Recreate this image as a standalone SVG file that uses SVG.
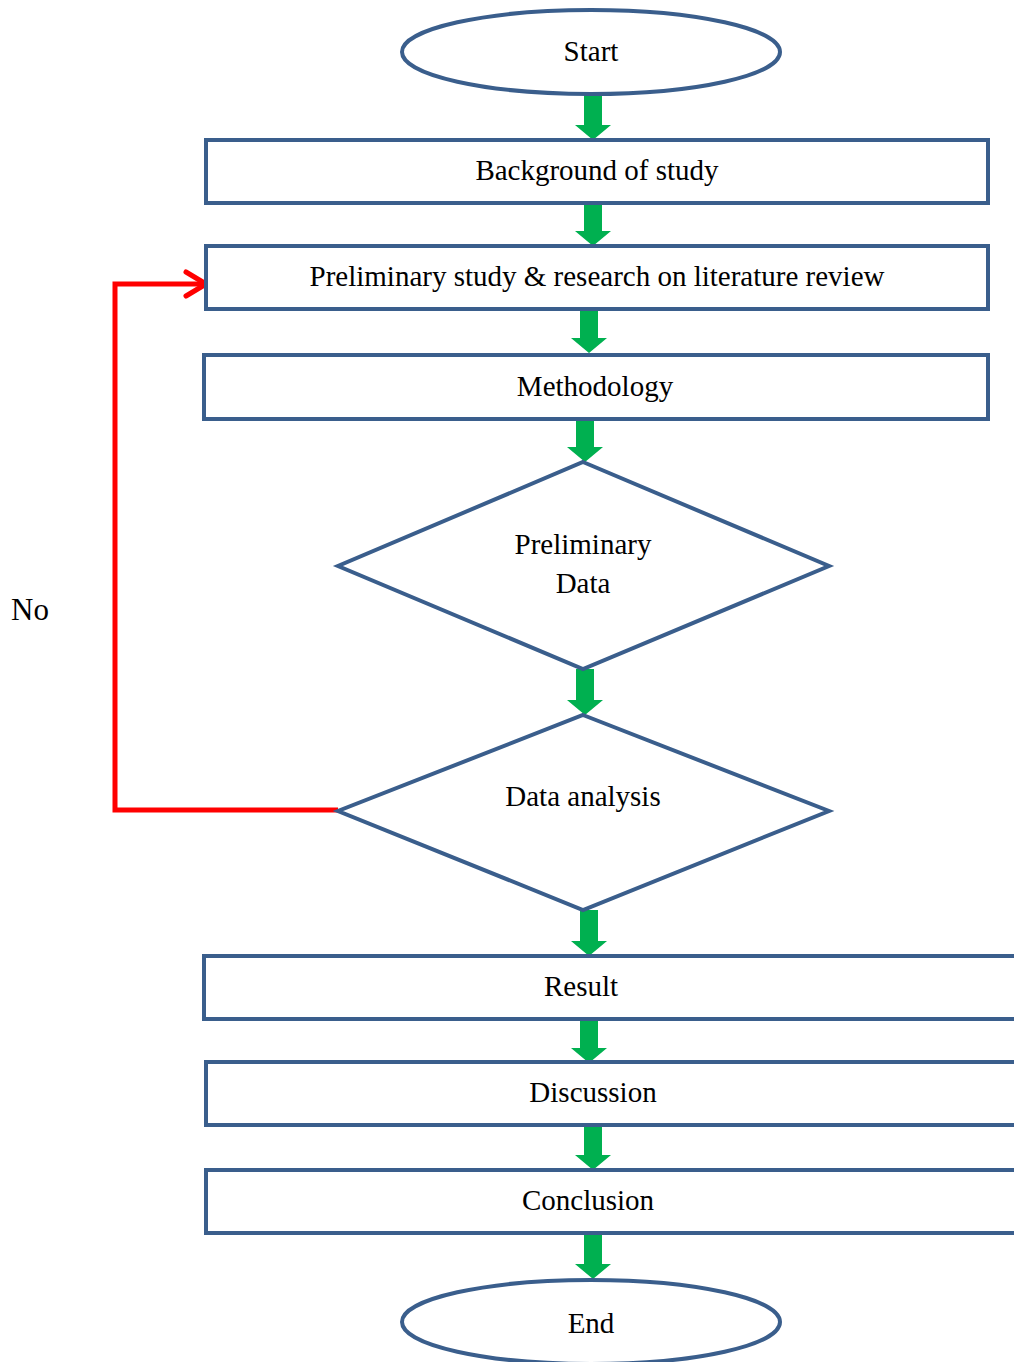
<svg xmlns="http://www.w3.org/2000/svg" width="1014" height="1362" viewBox="0 0 1014 1362">
<style>
.s{fill:#fff;stroke:#3A5E8C;stroke-width:4}
.t{font-family:"Liberation Serif","Times New Roman",serif;font-size:29px;fill:#000;text-anchor:middle}
.a{fill:#00B050}
</style>
<defs>
<path id="arr" d="M-9,0 H9 V31 H18 L0,46 L-18,31 H-9 Z"/>
</defs>
<rect width="1014" height="1362" fill="#fff"/>
<g id="connectors">
<use href="#arr" class="a" x="593" y="94"/>
<use href="#arr" class="a" x="593" y="200"/>
<use href="#arr" class="a" x="589" y="307"/>
<use href="#arr" class="a" x="585" y="416"/>
<use href="#arr" class="a" x="585" y="669"/>
<use href="#arr" class="a" x="589" y="910"/>
<use href="#arr" class="a" x="589" y="1017"/>
<use href="#arr" class="a" x="593" y="1124"/>
<use href="#arr" class="a" x="593" y="1233"/>
<polyline points="338,810 115,810 115,284 206,284" fill="none" stroke="#FF0000" stroke-width="5"/>
<polyline points="186,272 206,284 186,296" fill="none" stroke="#FF0000" stroke-width="5" stroke-linecap="round" stroke-linejoin="round"/>
</g>
<g id="start"><ellipse class="s" cx="591" cy="52" rx="189" ry="42"/><text class="t" x="591" y="61">Start</text></g>
<g id="background"><rect class="s" x="206" y="140" width="782" height="63"/><text class="t" x="597" y="180">Background of study</text></g>
<g id="preliminary"><rect class="s" x="206" y="246" width="782" height="63"/><text class="t" x="597" y="286">Preliminary study &amp; research on literature review</text></g>
<g id="methodology"><rect class="s" x="204" y="355" width="784" height="64"/><text class="t" x="595" y="396">Methodology</text></g>
<g id="prelimdata"><polygon class="s" points="583,462 829,566 583,669 338,566"/><text class="t" x="583" y="554">Preliminary</text><text class="t" x="583" y="593">Data</text></g>
<g id="analysis"><polygon class="s" points="583,715 829,811 583,910 338,811"/><text class="t" x="583" y="806">Data analysis</text></g>
<g id="result"><rect class="s" x="204" y="956" width="830" height="63"/><text class="t" x="581" y="996">Result</text></g>
<g id="discussion"><rect class="s" x="206" y="1062" width="830" height="63"/><text class="t" x="593" y="1102">Discussion</text></g>
<g id="conclusion"><rect class="s" x="206" y="1170" width="830" height="63"/><text class="t" x="588" y="1210">Conclusion</text></g>
<g id="end"><ellipse class="s" cx="591" cy="1322" rx="189" ry="42"/><text class="t" x="591" y="1333">End</text></g>
<g id="no"><text class="t" x="30" y="620" style="font-size:31px">No</text></g>
</svg>
